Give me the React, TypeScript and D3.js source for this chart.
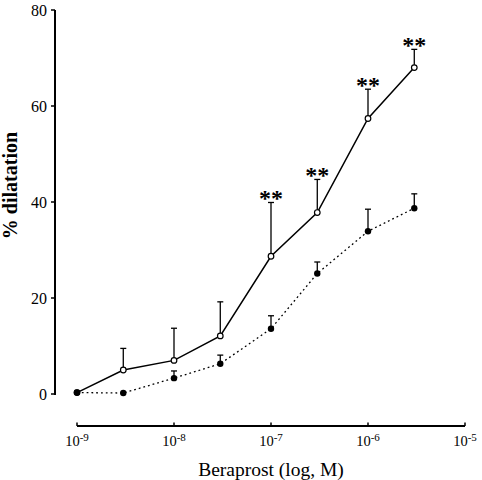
import React from "react";
import * as d3 from "d3";

const concentrations = [1e-9, 3e-9, 1e-8, 3e-8, 1e-7, 3e-7, 1e-6, 3e-6];
const openMeans = [0.3, 5.0, 7.0, 12.1, 28.7, 37.8, 57.4, 68.0];
const openErrTop = [0.3, 9.5, 13.7, 19.2, 39.9, 44.7, 63.5, 71.8];
const filledMeans = [0.3, 0.2, 3.3, 6.3, 13.6, 25.1, 33.9, 38.7];
const filledErrTop = [0.3, 0.2, 4.8, 8.1, 16.3, 27.5, 38.5, 41.7];
const significant = [false, false, false, false, true, true, true, true];
const yTicks = [0, 20, 40, 60, 80];
const xTickExps = [-9, -8, -7, -6, -5];

export default function App() {
  const W = 482, H = 480;
  const x = d3.scaleLog().domain([1e-9, 1e-5]).range([77, 465]);
  const y = d3.scaleLinear().domain([0, 80]).range([394, 10]);
  const font = "Liberation Serif";
  const fs = (size: number, bold = false) => ({ fontFamily: font, fontSize: size + "px", fontWeight: bold ? 700 : 400 });

  const lineGen = d3
    .line<number>()
    .x((_, i) => x(concentrations[i]))
    .y((d) => y(d));

  const errBars = (means: number[], tops: number[], key: string) =>
    means.map((m, i) =>
      tops[i] - m > 0.5 ? (
        <g key={key + i} stroke="#000" strokeWidth={1.3}>
          <line x1={x(concentrations[i])} x2={x(concentrations[i])} y1={y(m)} y2={y(tops[i])} />
          <line x1={x(concentrations[i]) - 3} x2={x(concentrations[i]) + 3} y1={y(tops[i])} y2={y(tops[i])} />
        </g>
      ) : null
    );

  return (
    <svg width={W} height={H} style={{ position: "absolute", left: 0, top: 0 }}>
      <rect width={W} height={H} fill="#fff" />
      {/* Y axis */}
      <line x1={55} x2={55} y1={y(80)} y2={y(0) + 1} stroke="#000" strokeWidth={2} />
      {yTicks.map((t) => (
        <g key={t}>
          <line x1={51} x2={55} y1={y(t)} y2={y(t)} stroke="#000" strokeWidth={1.5} />
          <text x={47} y={y(t)} dy="0.35em" textAnchor="end" style={fs(16)}>
            {t}
          </text>
        </g>
      ))}
      <text transform={`translate(17,185.5) rotate(-90)`} textAnchor="middle" style={fs(20, true)}>
        % dilatation
      </text>
      {/* X axis */}
      <line x1={x(1e-9)} x2={x(1e-5)} y1={426} y2={426} stroke="#000" strokeWidth={2} />
      {xTickExps.map((e) => (
        <g key={e}>
          <line x1={x(Math.pow(10, e))} x2={x(Math.pow(10, e))} y1={422.5} y2={426} stroke="#000" strokeWidth={1.5} />
          <text x={x(Math.pow(10, e))} y={446} textAnchor="middle" style={fs(14.5)}>
            10
            <tspan style={{ fontSize: "11px" }} dy={-5.5}>
              {e}
            </tspan>
          </text>
        </g>
      ))}
      <text x={271} y={476} textAnchor="middle" style={fs(19.5)}>
        Beraprost (log, M)
      </text>
      {/* error bars */}
      {errBars(openMeans, openErrTop, "o")}
      {errBars(filledMeans, filledErrTop, "f")}
      {/* lines */}
      <path d={lineGen(filledMeans) || ""} fill="none" stroke="#000" strokeWidth={1.3} strokeDasharray="1.8,3" />
      <path d={lineGen(openMeans) || ""} fill="none" stroke="#000" strokeWidth={1.5} />
      {openMeans.map((m, i) => (
        <circle key={"oc" + i} cx={x(concentrations[i])} cy={y(m)} r={2.8} fill="#fff" stroke="#000" strokeWidth={1.2} />
      ))}
      {filledMeans.map((m, i) => (
        <circle key={"fc" + i} cx={x(concentrations[i])} cy={y(m)} r={3.2} fill="#000" />
      ))}
      {significant.map((s, i) =>
        s ? (
          <text key={"s" + i} x={x(concentrations[i])} y={y(openErrTop[i]) + 4} textAnchor="middle" style={fs(24, true)}>
            **
          </text>
        ) : null
      )}
    </svg>
  );
}
